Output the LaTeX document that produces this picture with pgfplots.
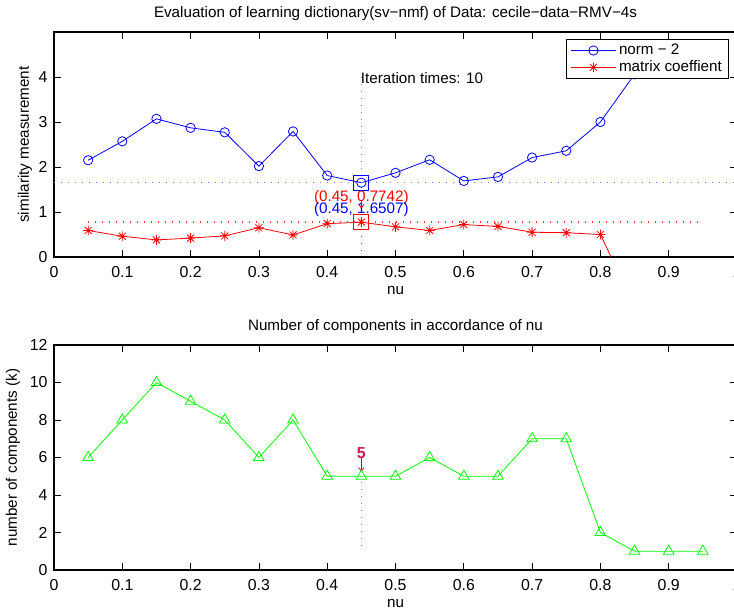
\documentclass[border=0pt]{standalone}
\usepackage{fontspec}
\setmainfont{Liberation Sans}
\usepackage{pgfplots}
\pgfplotsset{compat=1.18}
\usetikzlibrary{arrows.meta}
\newcommand{\ff}{\fontsize{11.4}{13.5}\selectfont}
\newcommand{\ft}{\fontsize{11.9}{14}\selectfont}
\pgfdeclareplotmark{mstar}{%
  \pgfpathmoveto{\pgfqpoint{-\pgfplotmarksize}{0pt}}\pgfpathlineto{\pgfqpoint{\pgfplotmarksize}{0pt}}%
  \pgfpathmoveto{\pgfqpoint{0pt}{-\pgfplotmarksize}}\pgfpathlineto{\pgfqpoint{0pt}{\pgfplotmarksize}}%
  \pgfpathmoveto{\pgfqpoint{-0.707\pgfplotmarksize}{-0.707\pgfplotmarksize}}\pgfpathlineto{\pgfqpoint{0.707\pgfplotmarksize}{0.707\pgfplotmarksize}}%
  \pgfpathmoveto{\pgfqpoint{-0.707\pgfplotmarksize}{0.707\pgfplotmarksize}}\pgfpathlineto{\pgfqpoint{0.707\pgfplotmarksize}{-0.707\pgfplotmarksize}}%
  \pgfusepathqstroke}
\definecolor{crim}{RGB}{205,20,75}
\definecolor{pinkdot}{RGB}{215,100,180}
\definecolor{bluedot}{RGB}{120,120,255}
\definecolor{reddot}{RGB}{255,50,50}
\pgfplotsset{
  every axis title shift=0pt,
  dots/.style={line width=1pt, dash pattern=on 1pt off 4.25pt},
  common/.style={
    scale only axis, width=512.25pt, height=168.75pt,
    xmin=0, xmax=1,
    xtick={0,0.1,0.2,0.3,0.4,0.5,0.6,0.7,0.8,0.9,1},
    xticklabels={0,0.1,0.2,0.3,0.4,0.5,0.6,0.7,0.8,0.9,1},
    tick align=inside, major tick length=5pt,
    axis line style={line width=1.1pt},
    every tick/.style={black, line width=0.6pt},
    font=\ff, ticklabel style={font=\ft},
    /pgf/number format/assume math mode=true,
    xticklabel style={yshift=-3.5pt}, yticklabel style={xshift=-1.3pt},
    xlabel={nu},
    xlabel style={at={(axis description cs:0.5,0)},anchor=center,yshift=-25pt},
    title style={at={(axis description cs:0.5,1)},anchor=center,yshift=14pt},
  }
}
\begin{document}
\begin{tikzpicture}
\path[use as bounding box] (0pt,0pt) rectangle (550.5pt,457.5pt);
% ---------------- top axis
\begin{axis}[common,
  at={(40.5pt,264.75pt)}, anchor=south west,
  ymin=0, ymax=5, ytick={0,1,2,3,4},
  ylabel={similarity measurement},
  ylabel style={at={(axis description cs:0,0.5)},anchor=center,yshift=21.75pt},
  title={Evaluation of learning dictionary(sv−nmf) of Data: cecile−data−RMV−4s},
  legend style={at={(rel axis cs:1,1)}, anchor=north east, xshift=-6pt, yshift=-5.25pt,
    draw=black, line width=0.8pt, font=\ff, inner xsep=3pt, inner ysep=1.5pt,
    row sep=-1pt, cells={anchor=west}},
  legend image code/.code={\draw[mark repeat=2,mark phase=2,line width=0.6pt] plot coordinates {(0pt,0pt) (16.9pt,0pt) (33.75pt,0pt)};},
]
\addplot[blue, line width=0.6pt, mark=o, mark size=3.5pt] coordinates {
 (0.05,2.15) (0.10,2.57) (0.15,3.07) (0.20,2.87) (0.25,2.77) (0.30,2.02)
 (0.35,2.79) (0.40,1.81) (0.45,1.6507) (0.50,1.87) (0.55,2.16) (0.60,1.69)
 (0.65,1.78) (0.70,2.21) (0.75,2.36) (0.80,3.00) (0.85,4.06)};
\addlegendentry{norm − 2}
\addplot[red, line width=0.6pt, mark=mstar, mark size=3.7pt] coordinates {
 (0.05,0.59) (0.10,0.46) (0.15,0.38) (0.20,0.42) (0.25,0.47) (0.30,0.65)
 (0.35,0.49) (0.40,0.74) (0.45,0.7742) (0.50,0.67) (0.55,0.59) (0.60,0.72)
 (0.65,0.68) (0.70,0.55) (0.75,0.54) (0.80,0.50) (0.85,-1.11)};
\addlegendentry{matrix coeffient}
\addplot[forget plot, bluedot, dots] coordinates {(0,1.6507) (1,1.6507)};
\addplot[forget plot, bluedot, dots] coordinates {(0.45,4) (0.45,1.6507)};
\addplot[forget plot, reddot, dots] coordinates {(0.05,0.7742) (0.95,0.7742)};
\addplot[forget plot, reddot, dots] coordinates {(0.45,0.7742) (0.45,0)};
\addplot[forget plot, only marks, blue, mark=square, mark size=5.6pt, line width=0.6pt] coordinates {(0.45,1.6507)};
\addplot[forget plot, only marks, red, mark=square, mark size=5.6pt, line width=0.6pt] coordinates {(0.45,0.7742)};
\node[anchor=west, inner sep=0pt, font=\ff] at (axis cs:0.449,3.97) {Iteration times: 10};
\node[red, font=\ff, inner sep=0pt] at (axis cs:0.45,1.33) {(0.45, 0.7742)};
\node[blue, font=\ff, inner sep=0pt] at (axis cs:0.45,1.05) {(0.45, 1.6507)};
\draw[red, line width=0.6pt, -{Straight Barb[length=2.5pt,width=4pt]}] (axis cs:0.45,1.26) -- (axis cs:0.45,1.08);
\end{axis}
% ---------------- bottom axis
\begin{axis}[common,
  at={(40.5pt,30pt)}, anchor=south west,
  ymin=0, ymax=12, ytick={0,2,4,6,8,10,12},
  ylabel={number of components (k)},
  ylabel style={at={(axis description cs:0,0.5)},anchor=center,yshift=30.75pt},
  title={Number of components in accordance of nu},
  title style={yshift=-0.5pt},
]
\addplot[green, line width=0.6pt, mark=triangle, mark size=4.6pt] coordinates {
 (0.05,6) (0.10,8) (0.15,10) (0.20,9) (0.25,8) (0.30,6) (0.35,8) (0.40,5)
 (0.45,5) (0.50,5) (0.55,6) (0.60,5) (0.65,5) (0.70,7) (0.75,7) (0.80,2)
 (0.85,1) (0.90,1) (0.95,1)};
\addplot[pinkdot, dots] coordinates {(0.45,4.7) (0.45,1)};
\node[crim, font=\ft\bfseries, inner sep=0pt] at (axis cs:0.45,6.24) {5};
\draw[crim!85!black, line width=0.6pt, -{Straight Barb[length=2.5pt,width=4pt]}] (axis cs:0.45,5.95) -- (axis cs:0.45,5.25);
\end{axis}
\end{tikzpicture}
\end{document}
